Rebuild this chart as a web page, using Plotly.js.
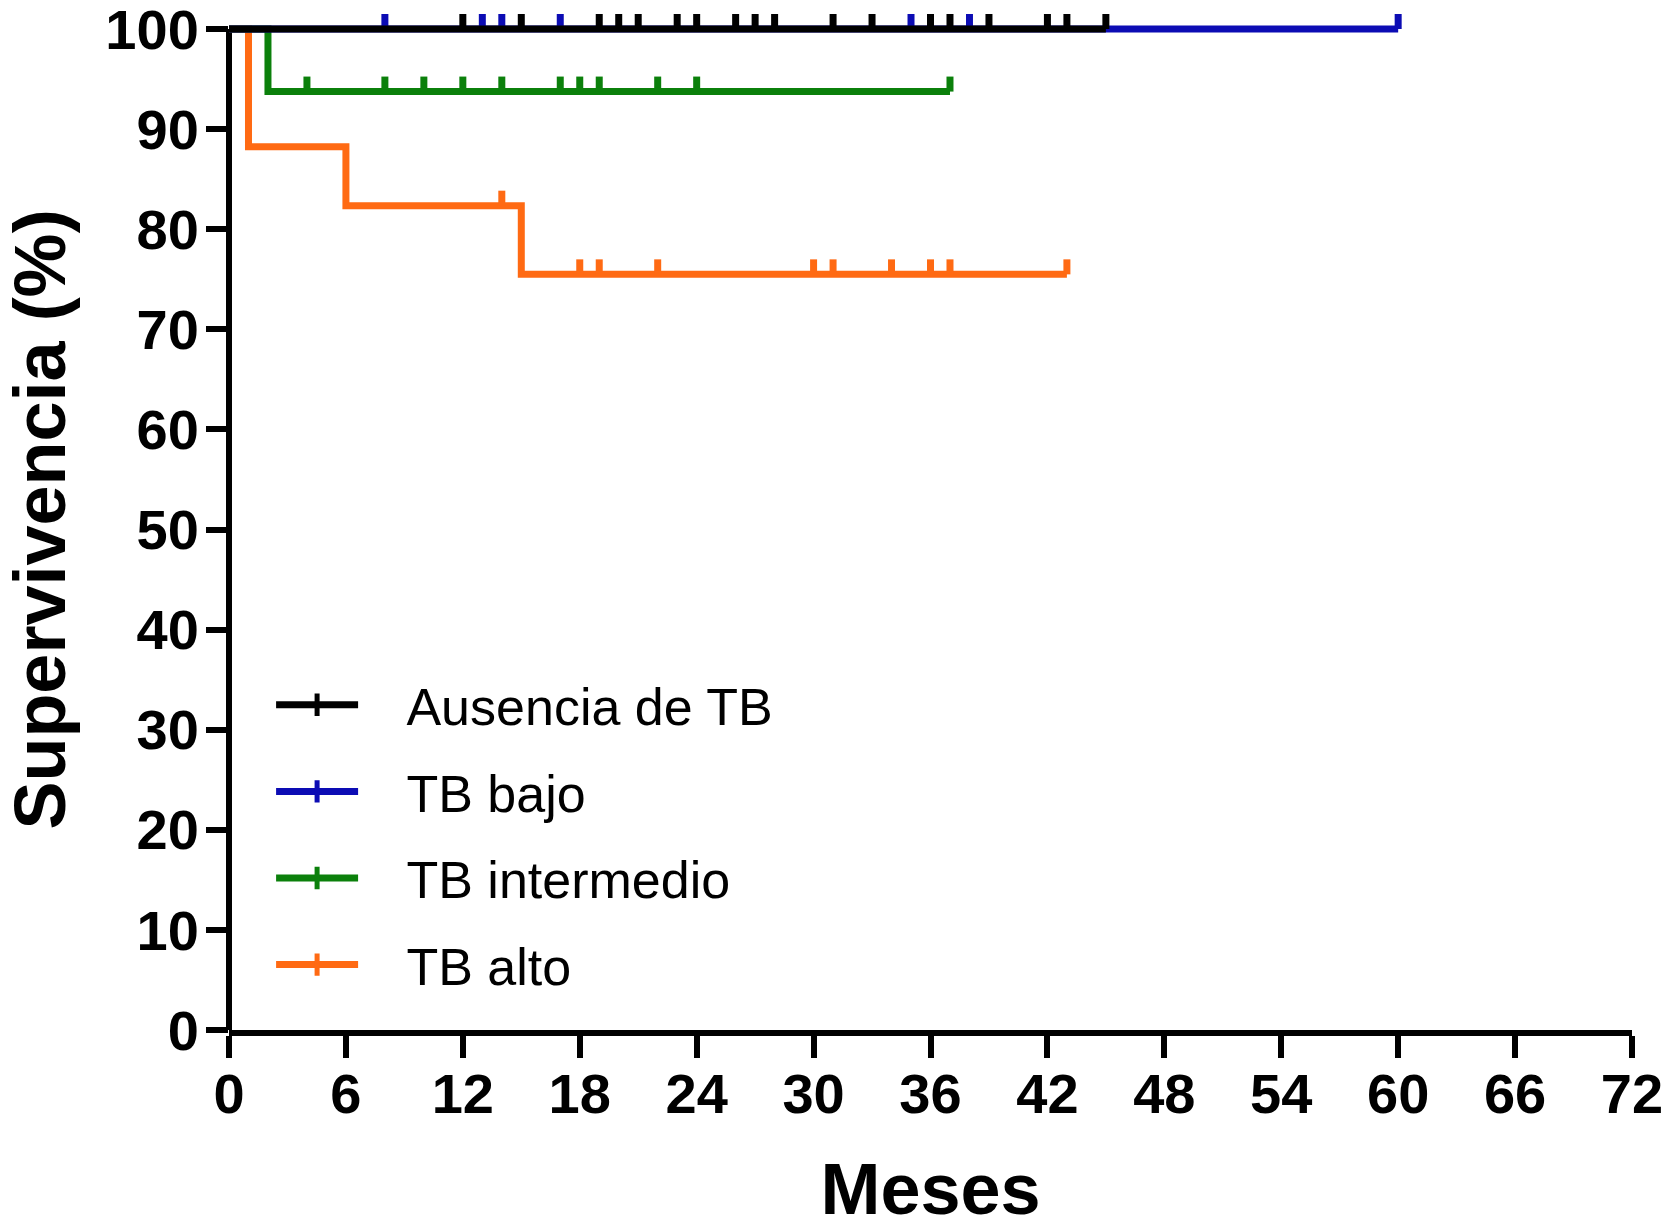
<!DOCTYPE html>
<html>
<head>
<meta charset="utf-8">
<script src="https://cdn.plot.ly/plotly-3.0.1.min.js"></script>
<style>html, body { margin: 0; padding: 0; background: #fff; }</style>
</head>
<body>
<div id="km" style="width:1675px;height:1229px"></div>
<script>
// Kaplan-Meier curves: step times (months), survival after each step (%), censored times
const GROUPS = ['Ausencia de TB', 'TB bajo', 'TB intermedio', 'TB alto'];
const COLORS = ['#000000', '#0c0cb4', '#0b800b', '#ff6a13'];

const ausT = [0, 45];
const ausS = [100, 100];
const ausC = [12, 15, 19, 20, 21, 23, 24, 26, 27, 28, 31, 33, 36, 37, 39, 42, 43, 45];

const bajoT = [0, 60];
const bajoS = [100, 100];
const bajoC = [8, 13, 14, 17, 35, 38, 60];

const interT = [0, 2, 37];
const interS = [100, 93.75, 93.75];
const interC = [4, 8, 10, 12, 14, 17, 18, 19, 22, 24, 37];

const altoT = [0, 1, 6, 15, 43];
const altoS = [100, 88.24, 82.35, 75.49, 75.49];
const altoC = [14, 18, 19, 22, 30, 31, 34, 36, 37, 43];

const X_TICKS = [0, 6, 12, 18, 24, 30, 36, 42, 48, 54, 60, 66, 72];
const Y_TICKS = [0, 10, 20, 30, 40, 50, 60, 70, 80, 90, 100];
const TICK_H = 1.5; // height of censor mark, in % units

const FONT = 'Arial, "Liberation Sans", sans-serif';

function levelAt(T, S, t) {
  let v = S[0];
  for (let i = 0; i < T.length; i++) if (T[i] <= t) v = S[i];
  return v;
}

function kmTrace(T, S, C, k) {
  const x = T.slice();
  const y = S.slice();
  C.forEach((c) => {
    const lv = levelAt(T, S, c);
    x.push(null, c, c);
    y.push(null, lv, lv + TICK_H);
  });
  return {
    x, y, type: 'scatter', mode: 'lines', name: GROUPS[k],
    line: { color: COLORS[k], width: 7, shape: 'hv' },
    cliponaxis: false, showlegend: false, hoverinfo: 'skip',
  };
}

// legend entries only (line with a censor mark)
function legendTrace(k) {
  return {
    x: [null], y: [null], type: 'scatter', mode: 'lines+markers',
    name: '\u00a0\u00a0\u00a0' + GROUPS[k], legendrank: k + 1, legendgroup: 'g' + k,
    line: { color: COLORS[k], width: 7 },
    marker: { symbol: 'line-ns', size: 16, line: { color: COLORS[k], width: 5 } },
  };
}

const traces = [
  kmTrace(altoT, altoS, altoC, 3),
  kmTrace(interT, interS, interC, 2),
  kmTrace(bajoT, bajoS, bajoC, 1),
  kmTrace(ausT, ausS, ausC, 0),
  legendTrace(0), legendTrace(1), legendTrace(2), legendTrace(3),
];

const axisCommon = {
  showgrid: false, zeroline: false,
  linecolor: '#000', linewidth: 6,
  ticks: 'outside', ticklen: 22, tickwidth: 6, tickcolor: '#000',
  ticklabeloverflow: 'allow',
  tickfont: { family: FONT, size: 56, weight: 'bold', color: '#000' },
};

Plotly.newPlot('km', traces, {
  width: 1675, height: 1229,
  margin: { l: 229, r: 43, t: 9, b: 199 },
  paper_bgcolor: '#fff', plot_bgcolor: '#fff',
  xaxis: {
    ...axisCommon, showline: true, range: [0, 72], tickvals: X_TICKS,
    ticklabelstandoff: -12,
    title: { text: 'Meses', font: { family: FONT, size: 72, weight: 'bold', color: '#000' }, standoff: 62 },
  },
  yaxis: {
    ...axisCommon, showline: false, range: [0, 102], tickvals: Y_TICKS,
    ticklabelstandoff: -4,
    title: { text: 'Supervivencia (%)\u00a0', font: { family: FONT, size: 72, weight: 'bold', color: '#000' }, standoff: 44 },
  },
  // y axis line drawn only up to 100 %
  shapes: [{
    type: 'line', xref: 'paper', yref: 'y', x0: 0, x1: 0, y0: 0, y1: 100,
    line: { color: '#000', width: 6 }, layer: 'below',
  }],
  legend: {
    x: 0.03, y: 0.358, xanchor: 'left', yanchor: 'top',
    bgcolor: 'rgba(0,0,0,0)', itemwidth: 82, tracegroupgap: 16,
    font: { family: FONT, size: 52, color: '#000' },
  },
}, { displayModeBar: false, staticPlot: true });
</script>
</body>
</html>
